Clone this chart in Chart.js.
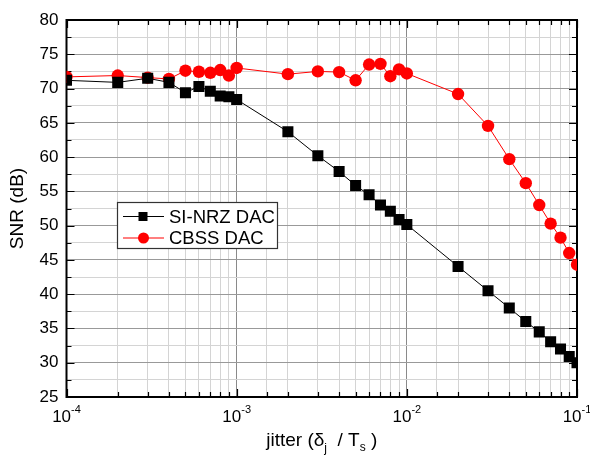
<!DOCTYPE html>
<html>
<head>
<meta charset="utf-8">
<script src="https://cdn.jsdelivr.net/npm/chart.js@4.4.1/dist/chart.umd.min.js"></script>
<style>
html,body{margin:0;padding:0;background:#fff;}
#wrap{width:590px;height:465px;position:relative;}
</style>
</head>
<body>
<div id="wrap"><canvas id="c" width="590" height="465"></canvas></div>
<script>
const jitter = [1e-4,2e-4,3e-4,4e-4,5e-4,6e-4,7e-4,8e-4,9e-4,1e-3,2e-3,3e-3,4e-3,5e-3,6e-3,7e-3,8e-3,9e-3,1e-2,2e-2,3e-2,4e-2,5e-2,6e-2,7e-2,8e-2,9e-2,1e-1];
const siNrz = [71.2,70.9,71.5,70.9,69.4,70.3,69.6,68.9,68.8,68.4,63.7,60.2,57.9,55.85,54.5,53.0,52.1,50.9,50.15,44.05,40.5,38.0,36.0,34.5,33.05,32.0,30.9,30.0];
const cbss = [71.7,71.9,71.6,71.4,72.6,72.45,72.3,72.7,71.9,73.0,72.1,72.5,72.4,71.2,73.5,73.6,71.8,72.8,72.2,69.2,64.55,59.7,56.2,53.0,50.3,48.25,46.0,44.3];
const seriesNames = ['SI-NRZ DAC','CBSS DAC'];
const xTickExps = [-4,-3,-2,-1];
const yMin = 25, yMax = 80, yStep = 2.5;

const FONT = '"Liberation Sans", Arial, sans-serif';
const MAJOR = '#999999', DECADE = '#8a8a8a', MINOR = '#d4d4d4';

function isDecade(v){ const l = Math.log10(v); return Math.abs(l - Math.round(l)) < 1e-6; }

const decor = {
  id: 'decor',
  beforeDatasetsDraw(chart){
    const {ctx, chartArea:a, scales:{x,y}} = chart;
    ctx.save();
    ctx.strokeStyle = '#000';
    ctx.lineWidth = 1.2;
    x.ticks.forEach(t => {
      const px = Math.round(x.getPixelForValue(t.value)) + 0.5;
      const len = isDecade(t.value) ? 8 : 5;
      ctx.beginPath();
      ctx.moveTo(px, a.bottom); ctx.lineTo(px, a.bottom - len);
      ctx.moveTo(px, a.top); ctx.lineTo(px, a.top + len);
      ctx.stroke();
    });
    y.ticks.forEach(t => {
      const py = Math.round(y.getPixelForValue(t.value)) + 0.5;
      const len = (t.value % 5 === 0) ? 8 : 5;
      ctx.beginPath();
      ctx.moveTo(a.left, py); ctx.lineTo(a.left + len, py);
      ctx.moveTo(a.right, py); ctx.lineTo(a.right - len, py);
      ctx.stroke();
    });
    ctx.lineWidth = 2;
    ctx.strokeRect(a.left, a.top, a.right - a.left, a.bottom - a.top);

    ctx.fillStyle = '#000';
    ctx.textBaseline = 'alphabetic';
    ctx.textAlign = 'left';
    xTickExps.forEach(e => {
      const px = x.getPixelForValue(Math.pow(10, e));
      ctx.font = '17px ' + FONT;
      const w1 = ctx.measureText('10').width;
      ctx.font = '11px ' + FONT;
      const sup = '-' + Math.abs(e);
      const w2 = ctx.measureText(sup).width;
      const sx = px - (w1 + w2) / 2;
      ctx.font = '17px ' + FONT;
      ctx.fillText('10', sx, 422);
      ctx.font = '11px ' + FONT;
      ctx.fillText(sup, sx + w1, 413);
    });

    ctx.save();
    ctx.translate(23, (a.top + a.bottom) / 2);
    ctx.rotate(-Math.PI / 2);
    ctx.textAlign = 'center';
    ctx.font = '19px ' + FONT;
    ctx.fillText('SNR (dB)', 0, 0);
    ctx.restore();

    const parts = [
      {t:'jitter (\u03b4', s:19, dy:0},
      {t:'j', s:12, dy:6},
      {t:'  / T', s:19, dy:0},
      {t:'s', s:12, dy:5},
      {t:' )', s:19, dy:0}
    ];
    let total = 0;
    parts.forEach(p => { ctx.font = p.s + 'px ' + FONT; p.w = ctx.measureText(p.t).width; total += p.w; });
    let cx = (a.left + a.right) / 2 - total / 2;
    parts.forEach(p => { ctx.font = p.s + 'px ' + FONT; ctx.fillText(p.t, cx, 446 + p.dy); cx += p.w; });
    ctx.restore();
  },
  afterDraw(chart){
    const {ctx} = chart;
    ctx.save();
    const bx = 117, by = 202, bw = 160, bh = 46;
    ctx.fillStyle = '#fff';
    ctx.fillRect(bx, by, bw, bh);
    ctx.strokeStyle = '#333';
    ctx.lineWidth = 1.2;
    ctx.strokeRect(bx + 0.5, by + 0.5, bw, bh);
    const rows = [
      {y:216.5, color:'#000', name:seriesNames[0], style:'rect'},
      {y:238, color:'#ff0000', name:seriesNames[1], style:'circle'}
    ];
    rows.forEach(r => {
      ctx.strokeStyle = r.color;
      ctx.lineWidth = 1.2;
      ctx.beginPath(); ctx.moveTo(123, r.y); ctx.lineTo(164, r.y); ctx.stroke();
      ctx.fillStyle = r.color;
      if (r.style === 'rect') { ctx.fillRect(143 - 4.5, r.y - 4.5, 9, 9); }
      else { ctx.beginPath(); ctx.arc(143.5, r.y, 5.5, 0, Math.PI*2); ctx.fill(); }
      ctx.fillStyle = '#000';
      ctx.font = '18.5px ' + FONT;
      ctx.textBaseline = 'middle';
      ctx.fillText(r.name, 169, r.y + 1);
    });
    ctx.restore();
  }
};

new Chart(document.getElementById('c'), {
  type: 'line',
  data: {
    datasets: [
      {
        label: seriesNames[0],
        data: jitter.map((v,i) => ({x:v, y:siNrz[i]})),
        borderColor: '#000', backgroundColor: '#000',
        borderWidth: 1, pointStyle: 'rect', pointRadius: 7.8, pointHoverRadius: 7.8,
        pointBorderWidth: 0, tension: 0
      },
      {
        label: seriesNames[1],
        data: jitter.map((v,i) => ({x:v, y:cbss[i]})),
        borderColor: '#ff0000', backgroundColor: '#ff0000',
        borderWidth: 1, pointStyle: 'circle', pointRadius: 6.2, pointHoverRadius: 6.2,
        pointBorderWidth: 0, tension: 0
      }
    ]
  },
  options: {
    responsive: false,
    animation: false,
    events: [],
    layout: { padding: { top: 20, right: 13, left: 0, bottom: 0 } },
    plugins: { legend: { display: false }, tooltip: { enabled: false } },
    scales: {
      x: {
        type: 'logarithmic',
        min: 1e-4, max: 1e-1,
        border: { display: false },
        grid: {
          drawTicks: false,
          lineWidth: 1,
          color: c => (c.tick && isDecade(c.tick.value)) ? DECADE : MINOR
        },
        ticks: { display: false },
        afterFit: s => { s.height = 68; }
      },
      y: {
        min: yMin, max: yMax,
        border: { display: false },
        grid: {
          drawTicks: false,
          lineWidth: 1,
          color: c => (c.tick && c.tick.value % 5 === 0) ? MAJOR : MINOR
        },
        ticks: {
          stepSize: yStep,
          autoSkip: false,
          padding: 8,
          color: '#000',
          font: { family: FONT, size: 17 },
          callback: v => (v % 5 === 0) ? String(v) : ''
        },
        afterFit: s => { s.width = 66.5; }
      }
    }
  },
  plugins: [decor]
});
</script>
</body>
</html>
